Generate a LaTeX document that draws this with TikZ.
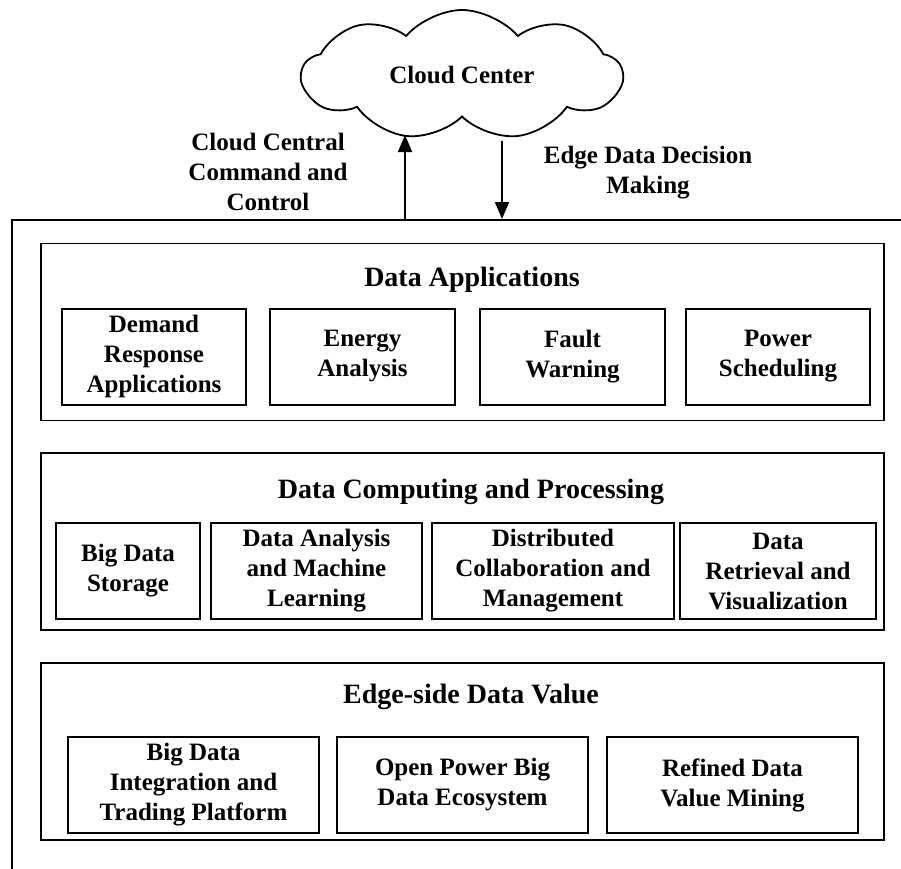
\documentclass[tikz,border=0pt]{standalone}
\usepackage{fontspec}
\setmainfont{Liberation Serif}
\usetikzlibrary{shapes.symbols,arrows.meta}

\begin{document}
\begin{tikzpicture}[x=1pt, y=-1pt,
    every node/.style={font=\bfseries\fontsize{25}{30}\selectfont, align=center},
    layer/.style={draw, line width=1.8pt, minimum width=843pt, minimum height=177pt},
    unit/.style={draw, line width=2pt, minimum height=96pt, inner sep=0pt},
    heading/.style={font=\bfseries\fontsize{28}{32}\selectfont},
    flow/.style={line width=1.8pt, -{Triangle[length=17pt, width=14pt]}}
]% [ show background grid ]
    \path[use as bounding box, clip] (0,0) rectangle (901,868);

    \node[cloud, draw, line width=1.8pt, cloud puffs=9, cloud puff arc=100,
          aspect=2.6, minimum width=320pt, minimum height=130pt] (cloud) at (462,75) {Cloud Center};

    \node[draw, line width=1.8pt, anchor=north west, minimum width=950pt,
          minimum height=700pt] (edge) at (11,219) {};

    \coordinate (cmdtip) at (405,135);
    \coordinate (dectail) at (502,141);
    \draw[flow] (edge.north -| cmdtip) -- (cmdtip);
    \draw[flow] (dectail) -- (dectail |- edge.north);

    \node (cmdlabel) at (268,172) {Cloud Central\\Command and\\Control};
    \node (declabel) at (648,173) {Edge Data Decision\\Making};


    \node[layer] (apps) at (462.5,332) {};
    \node[heading] at (472,280) {Data Applications};
    \node[unit, minimum width=184pt] (demand) at (154,356.5) {Demand\\Response\\Applications};
    \node[unit, minimum width=185pt] (energy) at (362.5,356.5) {Energy\\Analysis};
    \node[unit, minimum width=185pt] (fault) at (572.5,356.5) {Fault\\Warning};
    \node[unit, minimum width=184pt] (power) at (778,356.5) {Power\\Scheduling};

    \node[layer] (computing) at (462.5,541.5) {};
    \node[heading] at (471,492) {Data Computing and Processing};
    \node[unit, minimum width=144pt] (storage) at (128,571) {Big Data\\Storage};
    \node[unit, minimum width=211pt] (analysis) at (316.5,571) {Data Analysis\\and Machine\\Learning};
    \node[unit, minimum width=242pt] (collab) at (553,571) {Distributed\\Collaboration and\\Management};
    \node[unit, minimum width=196pt] (retrieval) at (778,571) {Data\\Retrieval and\\Visualization};

    \node[layer] (value) at (462.5,751.5) {};
    \node[heading] at (471,697) {Edge-side Data Value};
    \node[unit, minimum width=251pt] (trading) at (193.5,785) {Big Data\\Integration and\\Trading Platform};
    \node[unit, minimum width=251pt] (ecosystem) at (462.5,785) {Open Power Big\\Data Ecosystem};
    \node[unit, minimum width=251pt] (mining) at (732.5,785) {Refined Data\\Value Mining};

\end{tikzpicture}
\end{document}
